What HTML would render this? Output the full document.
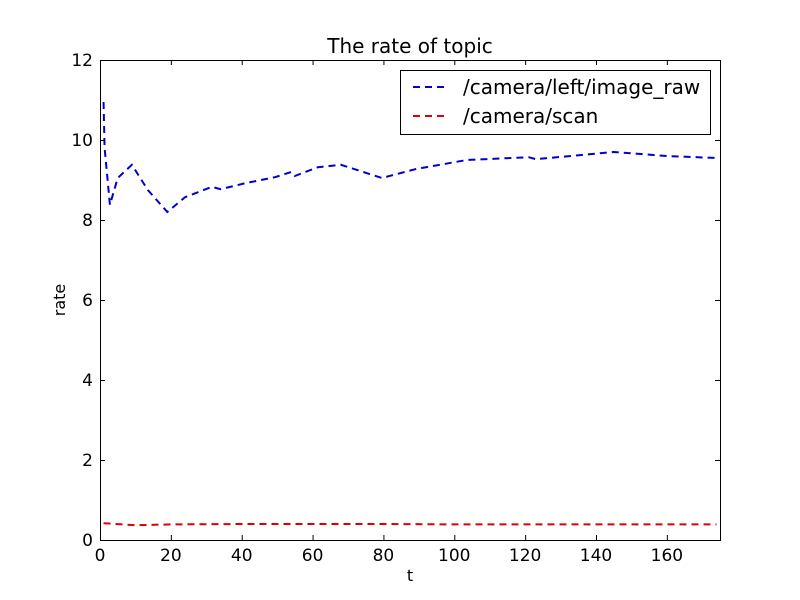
<!DOCTYPE html>
<html><head><meta charset="utf-8"><style>
body{margin:0;background:#fff;}
svg{display:block;font-family:"DejaVu Sans","Liberation Sans",sans-serif;}
</style></head><body>
<svg id="chart" width="800" height="600">
<rect x="0" y="0" width="800" height="600" fill="#fff"/>
<text x="410" y="53" font-size="20" text-anchor="middle">The rate of topic</text>
<g id="plot"></g>
<text x="410" y="581" font-size="16" text-anchor="middle">t</text>
<text x="65" y="300" font-size="16" text-anchor="middle" transform="rotate(-90 65 300)">rate</text>
<g>
<rect x="400.5" y="70.5" width="310" height="64" fill="#fff" stroke="#000"/>
<line x1="413" y1="87" x2="448" y2="87" stroke="#0000cc" stroke-width="2" stroke-dasharray="7,5"/>
<text x="463" y="94" font-size="20">/camera/left/image_raw</text>
<line x1="413" y1="116" x2="448" y2="116" stroke="#dd0000" stroke-width="2" stroke-dasharray="7,5"/>
<text x="463" y="123" font-size="20">/camera/scan</text>
</g>
</svg>
<script>
const xTicks=[0,20,40,60,80,100,120,140,160];
const yTicks=[0,2,4,6,8,10,12];
const rawT=[1,1.3,2.8,5,9,13.5,19,24,31.6,34,41,49.4,54,55,61.5,68,79.6,89,103.5,121,123,145,160,174];
const rawV=[10.95,9.8,8.38,9.05,9.38,8.75,8.2,8.57,8.83,8.77,8.92,9.07,9.2,9.1,9.32,9.38,9.05,9.27,9.5,9.57,9.52,9.7,9.6,9.55];
const scanT=[1,10,20,40,60,80,100,120,140,160,174];
const scanV=[0.42,0.37,0.39,0.4,0.4,0.4,0.39,0.39,0.39,0.39,0.39];
const L=100,R=720,T=60,B=540,XMAX=175,YMAX=12;
const xs=t=>L+(R-L)*t/XMAX, ys=v=>B-(B-T)*v/YMAX;
const NS="http://www.w3.org/2000/svg";
const g=document.getElementById('plot');
function mk(tag,attrs){const e=document.createElementNS(NS,tag);for(const k in attrs)e.setAttribute(k,attrs[k]);g.appendChild(e);return e;}
function line(ts,vs,color,name){
  const p=mk('polyline',{points:ts.map((t,i)=>xs(t)+','+ys(vs[i])).join(' '),fill:'none',stroke:color,'stroke-width':2,'stroke-dasharray':'7,5'});
  
  
}
line(rawT,rawV,'#0000cc','series-image-raw');
line(scanT,scanV,'#dd0000','series-scan');
const fr=mk('rect',{x:L+0.5,y:T+0.5,width:R-L,height:B-T,fill:'none',stroke:'#000'});


xTicks.forEach(t=>{const x=xs(t)+0.5;
  mk('line',{x1:x,y1:B,x2:x,y2:B-5,stroke:'#000'});mk('line',{x1:x,y1:T,x2:x,y2:T+5,stroke:'#000'});
  const tx=mk('text',{x:xs(t),y:B+21,'font-size':17,'text-anchor':'middle'});tx.textContent=t;
  
  });
yTicks.forEach(v=>{const y=ys(v)+0.5;
  mk('line',{x1:L,y1:y,x2:L+5,y2:y,stroke:'#000'});mk('line',{x1:R-5,y1:y,x2:R,y2:y,stroke:'#000'});
  const tx=mk('text',{x:L-7,y:ys(v)+6,'font-size':17,'text-anchor':'end'});tx.textContent=v;
  
  });
</script>
</body></html>
